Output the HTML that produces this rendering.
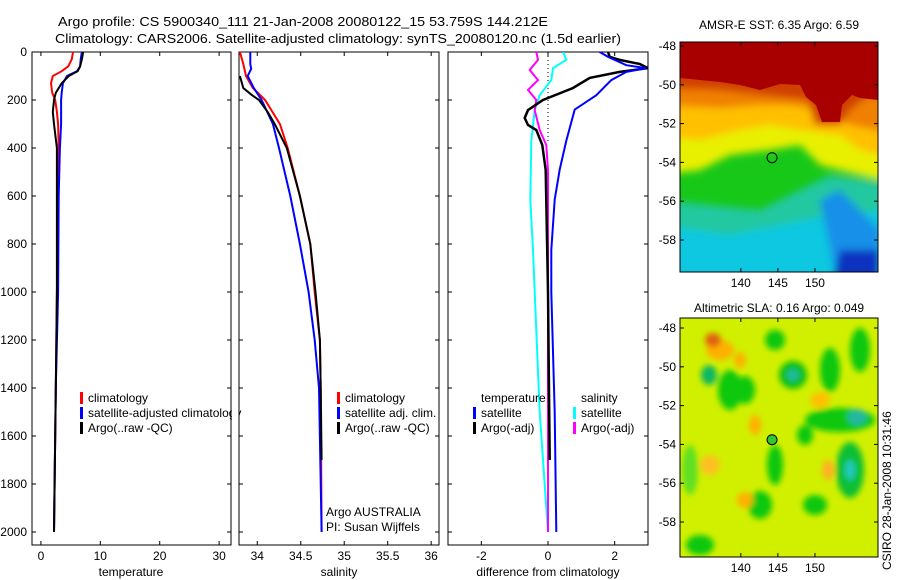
<!DOCTYPE html>
<html><head><meta charset="utf-8"><style>
html,body{margin:0;padding:0;background:#fff;}
svg{display:block;font-family:"Liberation Sans",sans-serif;}
</style></head><body>
<svg id="c" width="900" height="580" viewBox="0 0 900 580">
<defs>
<clipPath id="cm1"><rect x="680" y="42" width="198" height="230"/></clipPath>
<clipPath id="cm2"><rect x="680" y="318" width="198" height="239"/></clipPath>
<clipPath id="cp3"><rect x="448" y="52" width="200" height="493"/></clipPath>
<filter id="bl" x="-20%" y="-20%" width="140%" height="140%"><feGaussianBlur stdDeviation="4"/></filter>
<filter id="bl2" x="-50%" y="-50%" width="200%" height="200%"><feGaussianBlur stdDeviation="3"/></filter>
</defs>
<text x="58" y="26" font-size="13" textLength="490" lengthAdjust="spacingAndGlyphs">Argo profile: CS 5900340_111 21-Jan-2008 20080122_15 53.759S 144.212E</text>
<text x="55" y="43" font-size="13" textLength="566" lengthAdjust="spacingAndGlyphs">Climatology: CARS2006. Satellite-adjusted climatology: synTS_20080120.nc (1.5d earlier)</text>

<!-- Top map -->
<g clip-path="url(#cm1)">
<rect x="680" y="42" width="198" height="230" fill="#18c818"/>
<g filter="url(#bl)">
<polygon points="660,200 760,210 800,190 830,175 900,185 900,290 660,290" fill="#20c8a0"/>
<polygon points="660,225 730,235 780,225 830,215 900,210 900,290 660,290" fill="#10c8e0"/>
<polygon points="820,200 840,190 860,210 880,230 880,290 840,290 830,250" fill="#1890e8"/>
<polygon points="840,250 880,250 880,290 830,290" fill="#1030c0"/>
<polygon points="660,20 900,20 900,185 860,175 820,165 800,145 770,150 730,155 700,170 660,175" fill="#e8f000"/>
<polygon points="660,20 900,20 900,160 860,150 840,135 800,130 770,125 740,130 700,140 660,135" fill="#ffc000"/>
<polygon points="660,20 900,20 900,135 850,125 820,110 790,105 760,105 720,108 660,105" fill="#f08000"/>
<polygon points="660,20 900,20 900,100 870,95 850,110 840,125 815,125 808,100 760,95 720,90 660,88" fill="#d04000"/>
</g>
<polygon points="680,42 878,42 878,100 860,98 852,95 842,105 840,122 822,122 816,105 806,97 800,85 780,84 760,90 740,85 720,82 700,80 680,78" fill="#a80000"/>
</g>
<rect x="680" y="42" width="198" height="230" fill="none" stroke="#000"/>
<text x="779" y="29" font-size="12" text-anchor="middle">AMSR-E SST: 6.35 Argo: 6.59</text>

<!-- Bottom map -->
<g clip-path="url(#cm2)">
<rect x="680" y="318" width="198" height="239" fill="#d0f000"/>
<g filter="url(#bl2)">
<ellipse cx="720" cy="350" rx="14" ry="10" fill="#ffb000"/>
<ellipse cx="713" cy="340" rx="8" ry="7" fill="#e06010"/>
<ellipse cx="730" cy="390" rx="12" ry="20" fill="#10c810"/>
<ellipse cx="709" cy="375" rx="8" ry="10" fill="#10b860"/>
<ellipse cx="745" cy="390" rx="10" ry="14" fill="#10c810"/>
<ellipse cx="793" cy="375" rx="14" ry="14" fill="#10c010"/>
<ellipse cx="793" cy="375" rx="6" ry="6" fill="#20b8a0"/>
<ellipse cx="830" cy="370" rx="10" ry="22" fill="#10c810"/>
<ellipse cx="860" cy="350" rx="10" ry="22" fill="#10c810"/>
<ellipse cx="775" cy="340" rx="10" ry="10" fill="#10c810"/>
<ellipse cx="840" cy="420" rx="35" ry="12" fill="#10c810"/>
<ellipse cx="857" cy="417" rx="10" ry="8" fill="#20b8a0"/>
<ellipse cx="850" cy="470" rx="14" ry="28" fill="#10c030"/>
<ellipse cx="850" cy="470" rx="5" ry="10" fill="#20c8c0"/>
<ellipse cx="805" cy="435" rx="8" ry="10" fill="#10c810"/>
<ellipse cx="775" cy="465" rx="8" ry="20" fill="#10c810"/>
<ellipse cx="760" cy="505" rx="12" ry="14" fill="#10c810"/>
<ellipse cx="815" cy="505" rx="12" ry="10" fill="#10c810"/>
<ellipse cx="700" cy="545" rx="14" ry="10" fill="#10c810"/>
<ellipse cx="690" cy="470" rx="8" ry="25" fill="#60e020"/>
<ellipse cx="755" cy="425" rx="6" ry="10" fill="#ffb000"/>
<ellipse cx="710" cy="465" rx="10" ry="10" fill="#ffc020"/>
<ellipse cx="745" cy="500" rx="8" ry="8" fill="#ffb000"/>
<ellipse cx="820" cy="400" rx="10" ry="8" fill="#ffc000"/>
<ellipse cx="828" cy="470" rx="6" ry="10" fill="#ffb020"/>
<ellipse cx="740" cy="360" rx="6" ry="8" fill="#ffb000"/>
</g>
</g>
<rect x="680" y="318" width="198" height="239" fill="none" stroke="#000"/>
<text x="779" y="312" font-size="12" text-anchor="middle">Altimetric SLA: 0.16 Argo: 0.049</text>
<text transform="translate(891,570) rotate(-90)" font-size="12">CSIRO 28-Jan-2008 10:31:46</text>
<g id="g"></g>
</svg>
<script>
// ---- data ----
var tempDepth=[0,30,60,80,100,130,170,200,250,300,400,600,1000,1400,2000];
var tempClim=[5.4,5.2,4.6,3.5,2.0,1.7,1.9,2.4,2.7,2.9,3.0,2.9,2.7,2.5,2.2];
var tempSat=[6.9,6.7,6.6,6.1,4.4,3.7,3.5,3.4,3.4,3.4,3.2,3.0,2.9,2.5,2.2];
var tempArgo=[7.1,6.9,6.6,6.2,4.7,3.5,2.5,2.2,2.0,2.2,2.7,2.7,2.7,2.5,2.2];
var salClimDepth=[0,50,100,150,200,300,400,600,800,1000,1200,1400,2000];
var salClim=[33.80,33.84,33.87,33.95,34.09,34.26,34.35,34.49,34.61,34.66,34.72,34.73,34.74];
var salSatDepth=[0,50,70,100,150,200,300,400,600,800,1000,1200,1400,2000];
var salSat=[33.92,33.92,33.93,33.89,33.96,34.05,34.18,34.25,34.38,34.49,34.59,34.66,34.71,34.74];
var salArgoDepth=[100,150,180,200,250,300,400,600,800,1000,1200,1400,1700];
var salArgo=[33.80,33.84,33.94,34.02,34.12,34.20,34.34,34.49,34.61,34.67,34.72,34.73,34.74];
var dTSatDepth=[0,20,55,67,83,117,180,240,370,490,615,825,1000,1500,2000];
var dTSat=[1.55,1.8,2.35,2.95,2.35,1.9,1.45,0.8,0.55,0.35,0.2,0.1,0.1,0.2,0.25];
var dTArgoDepth=[0,20,33,50,67,83,108,150,200,242,275,304,325,388,492,1000,1700];
var dTArgo=[1.8,1.85,2.15,2.75,3.0,2.15,1.25,0.75,-0.15,-0.6,-0.7,-0.6,-0.35,-0.17,-0.07,0.0,0.05];
var dSSatDepth=[0,33,67,117,180,242,370,615,825,1000,1500,2000];
var dSSat=[0.45,0.55,0.15,0.1,-0.25,-0.4,-0.5,-0.53,-0.45,-0.4,-0.25,0.0];
var dSArgoDepth=[0,33,75,117,158,200,242,325,388,492,1000,2000];
var dSArgo=[-0.35,-0.3,-0.55,-0.3,-0.6,-0.35,-0.4,-0.25,-0.05,0.0,0.0,0.0];
var depthTicks=[0,200,400,600,800,1000,1200,1400,1600,1800,2000];
var tempTicks=[0,10,20,30];
var salTicks=[34,34.5,35,35.5,36];
var diffTicks=[-2,0,2];
var latTicks=[-48,-50,-52,-54,-56,-58];
var lonTicks=[140,145,150];
var argoLon=144.212, argoLat=-53.759;

// ---- scales ----
function yD(d){return 52+d*0.24;}
var panels=[{x0:32,x1:231,v0:-1.5,v1:32},{x0:239,x1:439,v0:33.79,v1:36.09},{x0:448,x1:648,v0:-3.0,v1:3.0}];
function xP(p,v){var q=panels[p];return q.x0+(v-q.v0)/(q.v1-q.v0)*(q.x1-q.x0);}
function lonX(l){return 680+(l-131.8)/(158.5-131.8)*198;}
function latY1(l){return 46+(-48-l)*19.4;}
function latY2(l){return 328+(-48-l)*19.4;}

var NS='http://www.w3.org/2000/svg';
var G=document.getElementById('g');
function mk(t,a,parent){var e=document.createElementNS(NS,t);for(var k in a)e.setAttribute(k,a[k]);(parent||G).appendChild(e);return e;}

for(var p=0;p<3;p++){
  var q=panels[p];
  var fr=mk('rect',{x:q.x0,y:52,width:q.x1-q.x0,height:493,fill:'none',stroke:'#000'});
  
  
  depthTicks.forEach(function(d){
    var y=yD(d);
    mk('line',{x1:q.x0,x2:q.x0+4,y1:y,y2:y,stroke:'#000'});
    mk('line',{x1:q.x1,x2:q.x1-4,y1:y,y2:y,stroke:'#000'});
    if(p===0){var t=mk('text',{x:q.x0-5,y:y+4,'font-size':12,'text-anchor':'end'});t.textContent=d;
      
      }
  });
  var ticks=p===0?tempTicks:(p===1?salTicks:diffTicks);
  ticks.forEach(function(v){
    var x=xP(p,v);
    mk('line',{x1:x,x2:x,y1:545,y2:541,stroke:'#000'});
    mk('line',{x1:x,x2:x,y1:52,y2:56,stroke:'#000'});
    var t=mk('text',{x:x,y:560,'font-size':12,'text-anchor':'middle'});t.textContent=v;
    
    
  });
}
var xt=[['temperature',131],['salinity',339],['difference from climatology',548]];
xt.forEach(function(a){var t=mk('text',{x:a[1],y:576,'font-size':12,'text-anchor':'middle'});t.textContent=a[0];
  
  });

var z=mk('line',{x1:xP(2,0),x2:xP(2,0),y1:52,y2:yD(380),stroke:'#000','stroke-dasharray':'1,3'});



function series(p,depths,vals,color,name,w,clip){
  var pts=depths.map(function(d,i){return xP(p,vals[i]).toFixed(1)+','+yD(d).toFixed(1);}).join(' ');
  var e=mk('polyline',{points:pts,fill:'none',stroke:color,'stroke-width':w||2});
  if(clip)e.setAttribute('clip-path','url(#cp3)');
  
  
}
series(0,tempDepth,tempClim,'#f00','temp-climatology-line');
series(0,tempDepth,tempSat,'#00f','temp-satellite-line');
series(0,tempDepth,tempArgo,'#000','temp-argo-line');
series(1,salClimDepth,salClim,'#f00','sal-climatology-line');
series(1,salSatDepth,salSat,'#00f','sal-satellite-line');
series(1,salArgoDepth,salArgo,'#000','sal-argo-line');
series(2,dSSatDepth,dSSat,'#0ff','diff-sal-satellite-line',2,true);
series(2,dSArgoDepth,dSArgo,'#f0f','diff-sal-argo-line',2,true);
series(2,dTArgoDepth,dTArgo,'#000','diff-temp-argo-line',2.5,true);
series(2,dTSatDepth,dTSat,'#00f','diff-temp-satellite-line',2,true);

function legend(x,y,color,label,name){
  mk('rect',{x:x,y:y-9,width:3,height:12,fill:color});
  var t=mk('text',{x:x+8,y:y+1,'font-size':12});t.textContent=label;
  
  
}
legend(80,401,'#f00','climatology','legend-climatology');
legend(80,416,'#00f','satellite-adjusted climatology','legend-satellite-adjusted');
legend(80,431,'#000','Argo(..raw -QC)','legend-argo');
mk('rect',{x:232,y:380,width:6.5,height:60,fill:'#fff'});
legend(337,401,'#f00','climatology','legend-climatology-2');
legend(337,416,'#00f','satellite adj. clim.','legend-satellite-adj-2');
legend(337,431,'#000','Argo(..raw -QC)','legend-argo-2');
var tt=mk('text',{x:481,y:402,'font-size':12});tt.textContent='temperature';


var ts=mk('text',{x:581,y:402,'font-size':12});ts.textContent='salinity';


legend(473,416,'#00f','satellite','legend-temp-satellite');
legend(473,431,'#000','Argo(-adj)','legend-temp-argo');
legend(573,416,'#0ff','satellite','legend-sal-satellite');
legend(573,431,'#f0f','Argo(-adj)','legend-sal-argo');
var a1=mk('text',{x:326,y:516,'font-size':12});a1.textContent='Argo AUSTRALIA';


var a2=mk('text',{x:326,y:531,'font-size':12});a2.textContent='PI: Susan Wijffels';



[[latY1,42,272],[latY2,318,557]].forEach(function(m,mi){
  latTicks.forEach(function(l){
    var y=m[0](l);
    mk('line',{x1:680,x2:684,y1:y,y2:y,stroke:'#000'});
    mk('line',{x1:878,x2:874,y1:y,y2:y,stroke:'#000'});
    var t=mk('text',{x:676,y:y+4,'font-size':12,'text-anchor':'end'});t.textContent=l;
    
    
  });
  lonTicks.forEach(function(l){
    var x=lonX(l);
    mk('line',{x1:x,x2:x,y1:m[2],y2:m[2]-4,stroke:'#000'});
    mk('line',{x1:x,x2:x,y1:m[1],y2:m[1]+4,stroke:'#000'});
    var t=mk('text',{x:x,y:m[2]+15,'font-size':12,'text-anchor':'middle'});t.textContent=l;
    
    
  });
  var c=mk('circle',{cx:lonX(argoLon),cy:m[0](argoLat),r:5,fill:mi===0?'none':'#30c830',stroke:'#000'});
  
  
});
</script>
</body></html>
